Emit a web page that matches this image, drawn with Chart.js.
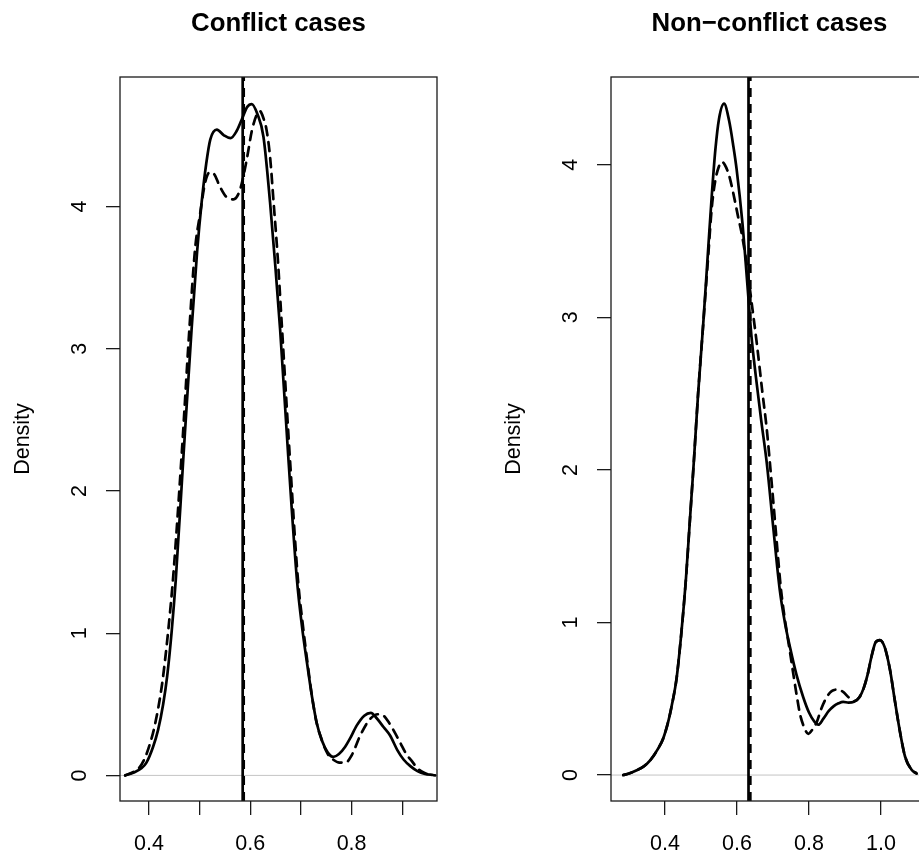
<!DOCTYPE html>
<html>
<head>
<meta charset="utf-8">
<script src="https://cdn.jsdelivr.net/npm/chart.js@4.4.0/dist/chart.umd.min.js"></script>
<style>
  html, body { margin: 0; padding: 0; background: #fff; overflow: hidden; width: 919px; height: 858px; }
  canvas { position: absolute; top: 0; }
  #conflict { left: 0; }
  #nonConflict { left: 491px; }
</style>
</head>
<body>
<canvas id="conflict" width="557" height="858"></canvas>
<canvas id="nonConflict" width="557" height="858"></canvas>
<script>
const FONT = "'Liberation Sans', Arial, Helvetica, sans-serif";

// density curves, [x, density]
const conflictSolid = [
  [0.353, 0], [0.370, 0.02], [0.385, 0.05], [0.395, 0.09], [0.408, 0.20], [0.418, 0.32],
  [0.428, 0.50], [0.436, 0.70], [0.445, 1.02], [0.453, 1.38], [0.468, 2.24], [0.484, 3.13],
  [0.495, 3.68], [0.504, 4.03], [0.513, 4.30], [0.521, 4.47], [0.534, 4.54], [0.548, 4.50],
  [0.561, 4.48], [0.573, 4.53], [0.583, 4.61], [0.594, 4.70], [0.603, 4.72], [0.614, 4.65],
  [0.626, 4.49], [0.639, 4.03], [0.649, 3.60], [0.659, 3.13], [0.675, 2.24], [0.692, 1.38],
  [0.702, 1.05], [0.712, 0.79], [0.722, 0.55], [0.731, 0.37], [0.742, 0.24], [0.753, 0.16],
  [0.764, 0.13], [0.775, 0.15], [0.787, 0.20], [0.797, 0.26], [0.810, 0.35], [0.825, 0.42],
  [0.838, 0.44], [0.850, 0.40], [0.863, 0.34], [0.876, 0.28], [0.890, 0.18], [0.903, 0.11],
  [0.916, 0.065], [0.930, 0.03], [0.945, 0.01], [0.961, 0.003]
];
const conflictDashed = [
  [0.353, 0], [0.370, 0.025], [0.380, 0.05], [0.389, 0.10], [0.400, 0.20], [0.412, 0.36],
  [0.425, 0.62], [0.433, 0.85], [0.443, 1.20], [0.449, 1.45], [0.465, 2.28], [0.480, 3.15],
  [0.491, 3.70], [0.501, 3.95], [0.511, 4.17], [0.520, 4.24], [0.528, 4.23], [0.540, 4.14],
  [0.552, 4.07], [0.567, 4.05], [0.580, 4.12], [0.593, 4.33], [0.603, 4.53], [0.612, 4.64],
  [0.619, 4.67], [0.626, 4.62], [0.632, 4.54], [0.639, 4.35], [0.646, 4.03], [0.654, 3.65],
  [0.662, 3.18], [0.678, 2.24], [0.694, 1.38], [0.704, 1.05], [0.713, 0.79], [0.722, 0.55],
  [0.731, 0.37], [0.742, 0.24], [0.753, 0.15], [0.764, 0.11], [0.776, 0.09], [0.788, 0.09],
  [0.800, 0.14], [0.817, 0.28], [0.835, 0.39], [0.852, 0.43], [0.863, 0.42], [0.872, 0.38],
  [0.884, 0.31], [0.896, 0.23], [0.908, 0.15], [0.919, 0.10], [0.930, 0.05], [0.942, 0.02],
  [0.955, 0.005], [0.965, 0]
];
const conflictMeans = [0.585, 0.587]; // solid, dashed

const nonConflictSolid = [
  [0.284, 0], [0.300, 0.01], [0.320, 0.03], [0.340, 0.055], [0.360, 0.10], [0.380, 0.17],
  [0.395, 0.24], [0.410, 0.36], [0.420, 0.47], [0.432, 0.63], [0.445, 0.92], [0.458, 1.28],
  [0.470, 1.70], [0.480, 2.05], [0.492, 2.50], [0.506, 2.95], [0.520, 3.45], [0.530, 3.80],
  [0.540, 4.10], [0.550, 4.30], [0.564, 4.40], [0.578, 4.29], [0.590, 4.12], [0.599, 3.97],
  [0.615, 3.62], [0.630, 3.18], [0.640, 2.88], [0.652, 2.62], [0.667, 2.33], [0.683, 2.04],
  [0.700, 1.64], [0.719, 1.21], [0.733, 1.00], [0.747, 0.84], [0.765, 0.66], [0.784, 0.51],
  [0.800, 0.41], [0.815, 0.35], [0.826, 0.33], [0.840, 0.37], [0.855, 0.42], [0.868, 0.45],
  [0.882, 0.47], [0.895, 0.48], [0.910, 0.475], [0.925, 0.48], [0.940, 0.51], [0.952, 0.57],
  [0.963, 0.66], [0.974, 0.78], [0.985, 0.87], [0.997, 0.885], [1.010, 0.84], [1.025, 0.69],
  [1.039, 0.48], [1.053, 0.28], [1.067, 0.12], [1.085, 0.035], [1.099, 0.01]
];
const nonConflictDashed = [
  [0.284, 0], [0.300, 0.01], [0.320, 0.03], [0.340, 0.055], [0.360, 0.10], [0.380, 0.17],
  [0.395, 0.24], [0.410, 0.36], [0.420, 0.47], [0.432, 0.63], [0.445, 0.92], [0.458, 1.28],
  [0.470, 1.70], [0.480, 2.05], [0.492, 2.50], [0.506, 2.95], [0.520, 3.40], [0.530, 3.72],
  [0.540, 3.90], [0.550, 3.99], [0.557, 4.02], [0.566, 4.00], [0.578, 3.93], [0.590, 3.81],
  [0.603, 3.66], [0.613, 3.55], [0.625, 3.38], [0.641, 3.09], [0.656, 2.81], [0.670, 2.52],
  [0.683, 2.26], [0.695, 1.95], [0.706, 1.65], [0.715, 1.40], [0.722, 1.22], [0.733, 1.02],
  [0.745, 0.84], [0.756, 0.67], [0.766, 0.52], [0.775, 0.40], [0.787, 0.31], [0.798, 0.27],
  [0.810, 0.30], [0.822, 0.35], [0.835, 0.44], [0.849, 0.51], [0.863, 0.55], [0.880, 0.56],
  [0.895, 0.545], [0.910, 0.51], [0.925, 0.485], [0.940, 0.51], [0.952, 0.57], [0.963, 0.66],
  [0.974, 0.78], [0.985, 0.87], [0.997, 0.885], [1.010, 0.84], [1.025, 0.69], [1.039, 0.48],
  [1.053, 0.28], [1.067, 0.12], [1.085, 0.035], [1.099, 0.01]
];
const nonConflictMeans = [0.632, 0.637];

const conflictXTicks = [0.4, 0.5, 0.6, 0.7, 0.8, 0.9];
const conflictXLabels = ["0.4", "", "0.6", "", "0.8", ""];
const nonConflictXTicks = [0.4, 0.6, 0.8, 1.0];
const nonConflictXLabels = ["0.4", "0.6", "0.8", "1.0"];
const yTicks = [0, 1, 2, 3, 4];
const yLabels = ["0", "1", "2", "3", "4"];

const conflictRange = { x: [0.3428, 0.9686], y: [-0.18, 4.91] };
const nonConflictRange = { x: [0.25, 1.1306], y: [-0.17, 4.575] };

// R style box, main title and vertical y tick labels
const rFrame = {
  id: "rFrame",
  afterDraw(chart, args, opts) {
    const { ctx, chartArea: a } = chart;
    const ys = chart.scales.y;
    ctx.save();
    ctx.strokeStyle = "#1a1a1a";
    ctx.lineWidth = 1.3;
    ctx.strokeRect(a.left, a.top, a.right - a.left, a.bottom - a.top);
    ctx.fillStyle = "#000";
    ctx.textAlign = "center";
    ctx.textBaseline = "alphabetic";
    ctx.font = "bold 25.8px " + FONT;
    ctx.fillText(opts.title, (a.left + a.right) / 2, 31);
    ctx.font = "21.5px " + FONT;
    ys.ticks.forEach((t, i) => {
      ctx.save();
      ctx.translate(a.left - 34.5, ys.getPixelForValue(t.value));
      ctx.rotate(-Math.PI / 2);
      ctx.fillText(yLabels[i], 0, 0);
      ctx.restore();
    });
    ctx.restore();
  }
};

function curve(pts, dash) {
  return {
    data: pts.map(([x, y]) => ({ x, y })),
    borderColor: "#000",
    borderWidth: 2.7,
    borderDash: dash,
    borderCapStyle: "round",
    borderJoinStyle: "round",
    pointRadius: 0,
    cubicInterpolationMode: "monotone",
    fill: false
  };
}

function vline(x, yr, dash) {
  return {
    data: [{ x, y: yr[0] }, { x, y: yr[1] }],
    borderColor: "#000",
    borderWidth: 2.7,
    borderDash: dash,
    pointRadius: 0,
    tension: 0,
    fill: false
  };
}

function densityChart(id, title, solid, dashed, means, range, xTicks, xLabels) {
  const tickGrid = { drawOnChartArea: false, drawTicks: true, tickLength: 14, color: "#1a1a1a", lineWidth: 1.3 };
  new Chart(document.getElementById(id), {
    type: "line",
    data: {
      datasets: [
        vline(means[0], range.y, []),
        vline(means[1], range.y, [9, 7]),
        curve(solid, []),
        curve(dashed, [9, 7]),
        {
          data: [{ x: range.x[0], y: 0 }, { x: range.x[1], y: 0 }],
          borderColor: "#c4c4c4", borderWidth: 1, pointRadius: 0, tension: 0
        }
      ]
    },
    options: {
      responsive: false,
      animation: false,
      events: [],
      layout: { padding: { left: 0, right: 120, top: 77, bottom: 0 } },
      plugins: {
        legend: { display: false },
        tooltip: { enabled: false },
        title: { display: false },
        rFrame: { title }
      },
      scales: {
        x: {
          type: "linear", min: range.x[0], max: range.x[1],
          afterBuildTicks: s => { s.ticks = xTicks.map(v => ({ value: v })); },
          afterFit: s => { s.height = 57; },
          grid: tickGrid,
          border: { display: false },
          ticks: {
            autoSkip: false, maxRotation: 0, padding: 16, color: "#000",
            font: { family: FONT, size: 21.5 },
            callback: (v, i) => xLabels[i]
          }
        },
        y: {
          type: "linear", min: range.y[0], max: range.y[1],
          afterBuildTicks: s => { s.ticks = yTicks.map(v => ({ value: v })); },
          afterFit: s => { s.width = 120; },
          grid: tickGrid,
          border: { display: false },
          ticks: { display: false },
          title: {
            display: true, text: "Density", color: "#000",
            font: { family: FONT, size: 21.5 },
            padding: { top: 10.6, bottom: 0 }
          }
        }
      }
    },
    plugins: [rFrame]
  });
}

densityChart("conflict", "Conflict cases", conflictSolid, conflictDashed, conflictMeans,
  conflictRange, conflictXTicks, conflictXLabels);
densityChart("nonConflict", "Non\u2212conflict cases", nonConflictSolid, nonConflictDashed, nonConflictMeans,
  nonConflictRange, nonConflictXTicks, nonConflictXLabels);
</script>
</body>
</html>
